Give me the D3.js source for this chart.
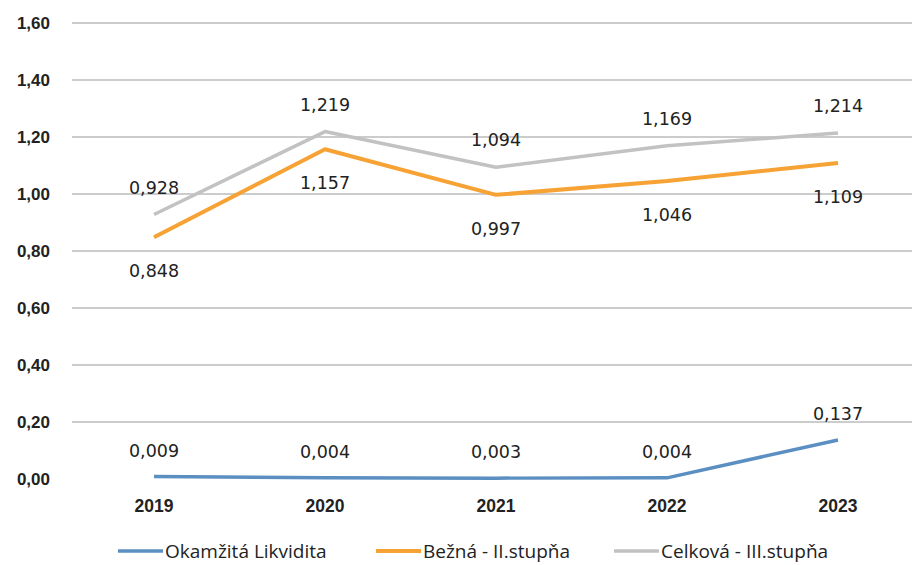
<!DOCTYPE html>
<html><head><meta charset="utf-8">
<script src="https://cdn.jsdelivr.net/npm/d3@7"></script>
<style>body{margin:0;background:#fff}svg{display:block}</style>
</head><body>
<svg id="c" width="912" height="565"></svg>
<script>
const years = ["2019","2020","2021","2022","2023"];
const okamzita = [0.009,0.004,0.003,0.004,0.137];
const bezna = [0.848,1.157,0.997,1.046,1.109];
const celkova = [0.928,1.219,1.094,1.169,1.214];
const yTicks = [0,0.2,0.4,0.6,0.8,1.0,1.2,1.4,1.6];
const seriesNames = ["Okamžitá Likvidita","Bežná - II.stupňa","Celková - III.stupňa"];

const svg = d3.select("#c");
const x = d3.scalePoint().domain(years).range([154,838]);
const y = d3.scaleLinear().domain([0,1.6]).range([479,23]);
const fmt = v => d3.format(".2f")(v).replace(".",",");
const fmt3 = v => d3.format(".3f")(v).replace(".",",");

// gridlines
const g = svg.append("g");
g.selectAll("line").data(yTicks.filter(t=>t>0)).join("line")
  .attr("x1",72).attr("x2",912).attr("y1",d=>y(d)).attr("y2",d=>y(d))
  .attr("stroke","#9a9a9a").attr("stroke-width",1.2);

// y labels
svg.append("g").selectAll("text").data(yTicks).join("text")
  .attr("x",50).attr("y",d=>y(d)).attr("dy","0.35em").attr("text-anchor","end")
  .attr("font-family","Liberation Sans, Arial, sans-serif").attr("font-weight","bold")
  .attr("font-size",17).attr("fill","#222").text(fmt);

// x labels
svg.append("g").selectAll("text").data(years).join("text")
  .attr("x",d=>x(d)).attr("y",506).attr("dy","0.35em").attr("text-anchor","middle")
  .attr("font-family","Liberation Sans, Arial, sans-serif").attr("font-weight","bold")
  .attr("font-size",17.5).attr("fill","#222").text(d=>d);

const series = [
  {name:seriesNames[0], vals:okamzita, color:"#5b8fc2", w:3.5, off:-26},
  {name:seriesNames[1], vals:bezna, color:"#f6a235", w:4, off:34},
  {name:seriesNames[2], vals:celkova, color:"#c2c2c2", w:3.5, off:-27}
];
const line = d3.line().x((d,i)=>x(years[i])).y(d=>y(d));
[series[2],series[1],series[0]].forEach(s=>{
  svg.append("path").attr("d",line(s.vals)).attr("fill","none")
    .attr("stroke",s.color).attr("stroke-width",s.w).attr("stroke-linejoin","round");
});
series.forEach(s=>{
  svg.append("g").selectAll("text").data(s.vals).join("text")
    .attr("x",(d,i)=>x(years[i])).attr("y",d=>y(d)+s.off).attr("dy","0.35em")
    .attr("text-anchor","middle").attr("font-family","DejaVu Sans, Verdana, sans-serif")
    .attr("font-size",17.5).attr("fill","#222").text(fmt3);
});

// legend
const legX = [118,376,614];
const lg = svg.append("g");
series.forEach((s,i)=>{
  lg.append("line").attr("x1",legX[i]).attr("x2",legX[i]+45).attr("y1",551).attr("y2",551)
    .attr("stroke",s.color).attr("stroke-width",s.w);
  lg.append("text").attr("x",legX[i]+47).attr("y",551).attr("dy","0.35em")
    .attr("font-family","Open Sans, Noto Sans, sans-serif").attr("font-size",19)
    .attr("fill","#222").text(s.name);
});
</script>
</body></html>
